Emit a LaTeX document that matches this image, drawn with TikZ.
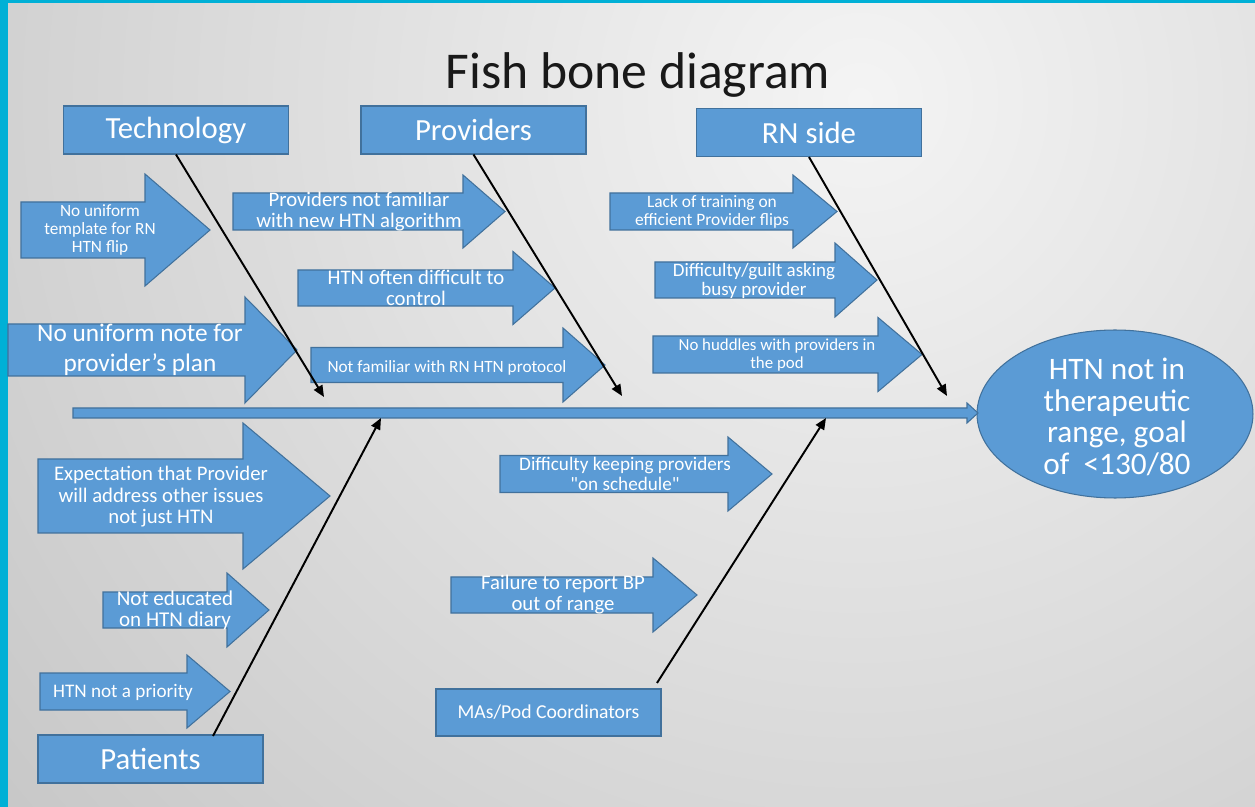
\documentclass[tikz,border=0pt]{standalone}
\usepackage{fontspec}
\setmainfont{Carlito}[Ligatures=TeXOff]
\usetikzlibrary{shapes.geometric,arrows.meta}

\definecolor{boxblue}{RGB}{91,155,213}
\definecolor{edgeblue}{RGB}{65,113,156}
\definecolor{framecyan}{RGB}{0,176,214}
\definecolor{bglight}{RGB}{244,244,244}
\definecolor{bgdark}{RGB}{176,176,176}

\newcommand{\fsz}[2]{\fontsize{#1}{#2}\selectfont}

% block arrow: left x, head base x, tip x, centre y, shaft half, head half
\newcommand{\causearrow}[6]{%
  \filldraw[arrowbody] (#1,#4-#5) -- (#2,#4-#5) -- (#2,#4-#6) -- (#3,#4)
    -- (#2,#4+#6) -- (#2,#4+#5) -- (#1,#4+#5) -- cycle;}

\tikzset{
  catbox/.style={draw=edgeblue, fill=boxblue, text=white, line width=0.6pt,
    minimum width=4.5cm, minimum height=0.96cm, inner sep=0pt,
    font=\fsz{17.5}{20}},
  arrowbody/.style={draw=edgeblue, fill=boxblue, line width=0.6pt},
  causetext/.style={text=white, align=center, inner sep=0pt},
  bone/.style={line width=1.1pt, -{Triangle[length=6.5pt,width=5.5pt]}},
}

\begin{document}
\begin{tikzpicture}[x=0.02cm, y=-0.02cm]

    % Frame and background
    \useasboundingbox (0,0) rectangle (1255,807);
    \fill[framecyan] (0,0) rectangle (1255,807);
    \begin{scope}
      \clip (8,4) rectangle (1255,807);
      \shade[inner color=bglight, outer color=bgdark] (860,100) circle (1700);
    \end{scope}

    % Title
    \node[font=\fsz{29.4}{32}, text=black!90] (title) at (638,75) {Fish bone diagram};

    % Category boxes
    \node[catbox] (tech) at (176,130) {Technology};
    \node[catbox] (prov) at (473.5,130) {Providers};
    \node[catbox] (rn) at (809,132.5) {RN side};
    \node[catbox] (pat) at (150.5,759) {Patients};
    \node[catbox, minimum height=0.94cm, font=\fsz{11.2}{12}] (ma) at (548.5,712.5) {MAs/Pod Coordinators};

    % Problem (head of the fish)
    \node[ellipse, draw=edgeblue, fill=boxblue, line width=0.6pt,
      minimum width=5.52cm, minimum height=3.36cm, inner sep=0pt] (goal) at (1115,414) {};
    \node[causetext, font=\fsz{17.8}{18}] (goaltext) at (1117,417)
      {HTN not in\\therapeutic\\range, goal\\of \ <130/80};

    % Spine
    \causearrow{73}{967}{978}{413}{5}{10}

    % Technology causes
    \causearrow{21}{145}{210}{230}{28}{56}
    \node[causetext, font=\fsz{9.8}{10.1}] (c1) at (100,230) {No uniform\\template for RN\\HTN flip};
    \causearrow{8}{245}{297}{350}{26}{53}
    \node[causetext, font=\fsz{14.4}{17}] (c2) at (140,350) {No uniform note for\\provider’s plan};

    % Provider causes
    \causearrow{233}{463}{505}{211.5}{18.5}{36.5}
    \node[causetext, font=\fsz{11.8}{12}] (c3) at (359,212) {Providers not familiar\\with new HTN algorithm};
    \causearrow{298}{513}{555}{288}{18}{36.5}
    \node[causetext, font=\fsz{11.8}{12}] (c4) at (416,288) {HTN often difficult to\\control};
    \causearrow{311}{563}{605}{365}{17.5}{37}
    \node[causetext, font=\fsz{9.8}{10}] (c5) at (447,368) {Not familiar with RN HTN protocol};

    % RN side causes
    \causearrow{610}{793}{837}{211.5}{18.5}{36.5}
    \node[causetext, font=\fsz{9.9}{10.2}] (c6) at (712,212) {Lack of training on\\efficient Provider flips};
    \causearrow{655}{835}{877}{280}{18}{37}
    \node[causetext, font=\fsz{10.8}{11.3}] (c7) at (754,281) {Difficulty/guilt asking\\busy provider};
    \causearrow{653}{878}{922}{354.5}{18.5}{37}
    \node[causetext, font=\fsz{9.6}{10}] (c8) at (777,355) {No huddles with providers in\\the pod};

    % Patient causes
    \causearrow{38}{243}{330}{496}{37}{73}
    \node[causetext, font=\fsz{11.8}{12.2}] (c9) at (161,497) {Expectation that Provider\\will address other issues\\not just HTN};
    \causearrow{103}{227}{269}{610}{18}{37}
    \node[causetext, font=\fsz{12}{12}] (c10) at (175,610) {Not educated\\on HTN diary};
    \causearrow{40}{187}{230}{691.5}{18.5}{36.5}
    \node[causetext, font=\fsz{10.9}{11}] (c11) at (123,692) {HTN not a priority};

    % MA / pod coordinator causes
    \causearrow{500}{728}{772}{474}{18.5}{37}
    \node[causetext, font=\fsz{10.9}{11}] (c12) at (625,474) {Difficulty keeping providers\\"on schedule"};
    \causearrow{451}{653}{697}{595}{18}{37}
    \node[causetext, font=\fsz{11.8}{12}] (c13) at (563,595) {Failure to report BP\\out of range};

    % Bones to the spine
    \coordinate (techEnd) at (324,397);
    \coordinate (provEnd) at (622,396);
    \coordinate (rnEnd) at (947,396);
    \coordinate (patTop) at (213,736);
    \coordinate (patEnd) at (381,418);
    \coordinate (maTop) at (657,683);
    \coordinate (maEnd) at (826,418);
    \draw[bone] (tech.south) -- (techEnd);
    \draw[bone] (prov.south) -- (provEnd);
    \draw[bone] (rn.south) -- (rnEnd);
    \draw[bone] (patTop) -- (patEnd);
    \draw[bone] (maTop) -- (maEnd);

\end{tikzpicture}
\end{document}
